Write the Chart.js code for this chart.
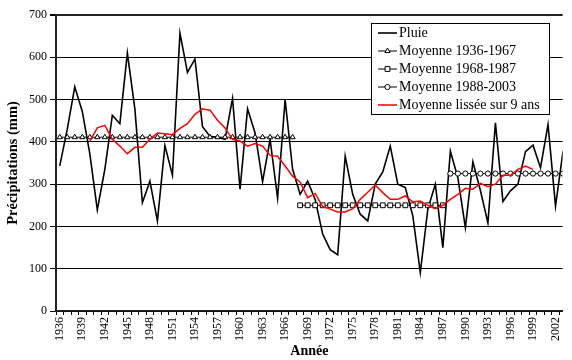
<!DOCTYPE html>
<html>
<head>
<meta charset="utf-8">
<script src="https://cdn.jsdelivr.net/npm/chart.js@4/dist/chart.umd.min.js"></script>
<style>
  html, body { margin: 0; padding: 0; background: #fff; }
  #wrap { width: 572px; height: 360px; }
</style>
</head>
<body>
<div id="wrap"><canvas id="c" width="572" height="360"></canvas></div>
<script>
// ---- Data ----
const firstYear = 1936;
const lastYear = 2003;

// Annual rainfall (mm), 1936..2003
const pluie = [
  343, 430, 530, 472, 372, 239, 335, 463, 443, 610,
  478, 256, 307, 213, 391, 321, 657, 564, 596, 436,
  413, 411, 406, 503, 288, 478, 421, 306, 406, 267,
  500, 335, 276, 307, 264, 182, 145, 133, 366, 276,
  229, 213, 300, 329, 390, 300, 292, 225, 91, 241,
  300, 150, 378, 315, 197, 353, 285, 208, 445, 259,
  284, 300, 377, 392, 339, 441, 248, 378
];

// Period means
const mean1Years = [1936, 1967];
const mean1Values = [411,411,411,411,411,411,411,411,411,411,411,411,411,411,411,411,
                     411,411,411,411,411,411,411,411,411,411,411,411,411,411,411,411];
const mean2Years = [1968, 1987];
const mean2Values = [250,250,250,250,250,250,250,250,250,250,
                     250,250,250,250,250,250,250,250,250,250];
const mean3Years = [1988, 2003];
const mean3Values = [325,325,325,325,325,325,325,325,325,325,325,325,325,325,325,325];

// 9-year smoothed mean, 1940..1999
const smoothStart = 1940;
const smoothValues = [
  402, 433, 439, 406, 390, 372, 387, 387, 406, 421,
  419, 417, 432, 443, 465, 478, 475, 451, 433, 406,
  402, 390, 396, 390, 368, 366, 343, 319, 305, 268,
  278, 247, 241, 234, 234, 242, 264, 281, 298, 280,
  264, 264, 272, 258, 260, 250, 242, 250, 264, 276,
  290, 288, 302, 294, 300, 321, 321, 335, 343, 335
];

const xTickYears = [1936,1939,1942,1945,1948,1951,1954,1957,1960,1963,1966,1969,
                    1972,1975,1978,1981,1984,1987,1990,1993,1996,1999,2002];
const yTicks = [0,100,200,300,400,500,600,700];

const labels = {
  pluie: 'Pluie',
  m1: 'Moyenne 1936-1967',
  m2: 'Moyenne 1968-1987',
  m3: 'Moyenne 1988-2003',
  smooth: 'Moyenne lissée sur 9 ans',
  yTitle: 'Précipitations (mm)',
  xTitle: 'Année'
};

// ---- Build point lists ----
function toPoints(startYear, values) {
  return values.map((v, i) => ({ x: startYear + i, y: v }));
}

const serif = '"Liberation Serif", "Times New Roman", serif';

const legendPlugin = {
  id: 'boxLegend',
  afterDraw(chart) {
    const ctx = chart.ctx;
    ctx.save();
    const x0 = 371.5, y0 = 23.5, w = 178, h = 91;
    ctx.fillStyle = '#fff';
    ctx.fillRect(x0, y0, w, h);
    ctx.strokeStyle = '#000';
    ctx.lineWidth = 1;
    ctx.strokeRect(x0, y0, w, h);
    ctx.font = '14px ' + serif;
    ctx.textBaseline = 'middle';
    ctx.textAlign = 'left';
    chart.data.datasets.forEach((ds, i) => {
      const y = 33 + i * 18;
      ctx.strokeStyle = ds.borderColor;
      ctx.lineWidth = ds.borderWidth;
      ctx.beginPath();
      ctx.moveTo(378, y);
      ctx.lineTo(397, y);
      ctx.stroke();
      if (ds.pointRadius > 0) {
        ctx.fillStyle = '#fff';
        ctx.strokeStyle = '#000';
        ctx.lineWidth = 1;
        ctx.beginPath();
        const r = ds.pointRadius;
        if (ds.pointStyle === 'circle') {
          ctx.arc(387.5, y, r, 0, Math.PI * 2);
        } else if (ds.pointStyle === 'rect') {
          const s = r * Math.SQRT1_2;
          ctx.rect(387.5 - s, y - s, 2 * s, 2 * s);
        } else {
          ctx.moveTo(387.5, y - r);
          ctx.lineTo(387.5 + r * 0.866, y + r * 0.5);
          ctx.lineTo(387.5 - r * 0.866, y + r * 0.5);
          ctx.closePath();
        }
        ctx.fill();
        ctx.stroke();
      }
      ctx.fillStyle = '#000';
      ctx.fillText(ds.label, 399, y + 0.5);
    });
    ctx.restore();
  }
};

new Chart(document.getElementById('c'), {
  type: 'line',
  data: {
    datasets: [
      {
        label: labels.pluie,
        data: toPoints(firstYear, pluie),
        borderColor: '#000', borderWidth: 1.6,
        pointRadius: 0, tension: 0, order: 3
      },
      {
        label: labels.m1,
        data: toPoints(mean1Years[0], mean1Values),
        borderColor: '#000', borderWidth: 1,
        pointStyle: 'triangle', pointRadius: 3, pointBorderWidth: 1,
        pointBackgroundColor: '#fff', pointBorderColor: '#000', order: 1
      },
      {
        label: labels.m2,
        data: toPoints(mean2Years[0], mean2Values),
        borderColor: '#000', borderWidth: 1,
        pointStyle: 'rect', pointRadius: 3.4, pointBorderWidth: 1,
        pointBackgroundColor: '#fff', pointBorderColor: '#000', order: 1
      },
      {
        label: labels.m3,
        data: toPoints(mean3Years[0], mean3Values),
        borderColor: '#000', borderWidth: 1,
        pointStyle: 'circle', pointRadius: 2.6, pointBorderWidth: 1,
        pointBackgroundColor: '#fff', pointBorderColor: '#000', order: 1
      },
      {
        label: labels.smooth,
        data: toPoints(smoothStart, smoothValues),
        borderColor: '#ff0000', borderWidth: 1.5,
        pointRadius: 0, tension: 0, order: 0
      }
    ]
  },
  options: {
    responsive: false,
    animation: false,
    devicePixelRatio: 1,
    layout: { padding: { top: 15, right: 0, left: 0, bottom: 0 } },
    plugins: { legend: { display: false }, tooltip: { enabled: false } },
    scales: {
      x: {
        type: 'linear',
        min: firstYear - 0.5,
        max: 2002.95,
        afterFit(scale) { scale.height = 49; },
        afterBuildTicks(scale) {
          const t = [];
          for (let y = firstYear; y <= 2002; y++) t.push({ value: y });
          scale.ticks = t;
        },
        ticks: {
          autoSkip: false,
          minRotation: 90, maxRotation: 90,
          padding: 2,
          color: '#000',
          font: { family: serif, size: 12 },
          callback: (v) => xTickYears.includes(v) ? String(v) : ''
        },
        grid: {
          offset: true,
          drawOnChartArea: false,
          drawTicks: true,
          tickLength: 4,
          color: '#000',
          lineWidth: 1
        },
        border: { display: true, color: '#222', width: 1.5 },
        title: {
          display: true, text: labels.xTitle, color: '#000',
          font: { family: serif, size: 14, weight: 'bold' },
          padding: { top: 0, bottom: 0 }
        }
      },
      y: {
        min: 0, max: 700,
        afterFit(scale) { scale.width = 56; },
        afterBuildTicks(scale) { scale.ticks = yTicks.map(v => ({ value: v })); },
        ticks: {
          padding: 3,
          color: '#000',
          font: { family: serif, size: 12 }
        },
        grid: {
          color: (c) => c.tick && c.tick.value === 700 ? '#222' : '#000',
          lineWidth: (c) => c.tick && c.tick.value === 700 ? 2 : 1,
          tickLength: 6,
          tickColor: '#000'
        },
        border: { display: true, color: '#222', width: 2 },
        title: {
          display: true, text: labels.yTitle, color: '#000',
          font: { family: serif, size: 14.5, weight: 'bold' },
          padding: { top: 5, bottom: 0 }
        }
      }
    }
  },
  plugins: [legendPlugin]
});
</script>
</body>
</html>
